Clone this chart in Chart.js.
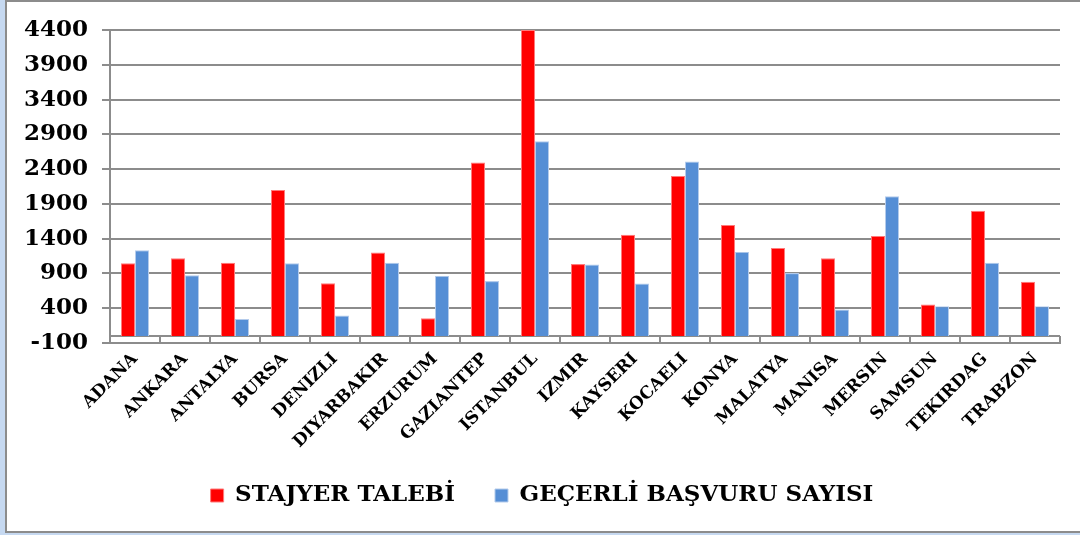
<!DOCTYPE html>
<html>
<head>
<meta charset="utf-8">
<script src="https://cdn.jsdelivr.net/npm/chart.js@4.4.1/dist/chart.umd.min.js"></script>
<style>
  html, body { margin: 0; padding: 0; width: 1080px; height: 535px; overflow: hidden; background: #c6d9f1; }
  #frame { position: absolute; left: 5px; top: 0; width: 1090px; height: 529px; background: #ffffff;
           border-left: 2px solid #8c8c8c; border-top: 2px solid #8c8c8c; border-bottom: 2px solid #8c8c8c; }
  #wrap { position: absolute; left: 0; top: 0; width: 1080px; height: 535px; }
</style>
</head>
<body>
<div id="frame"></div>
<div id="wrap"><canvas id="c"></canvas></div>
<script>
const categories = ['ADANA','ANKARA','ANTALYA','BURSA','DENIZLI','DIYARBAKIR','ERZURUM','GAZIANTEP','ISTANBUL','IZMIR','KAYSERI','KOCAELI','KONYA','MALATYA','MANISA','MERSIN','SAMSUN','TEKIRDAG','TRABZON'];
const stajyerTalebi = [1045, 1120, 1055, 2100, 760, 1200, 255, 2495, 4400, 1035, 1455, 2300, 1595, 1265, 1120, 1440, 455, 1800, 780];
const gecerliBasvuru = [1235, 875, 245, 1045, 295, 1055, 865, 790, 2800, 1030, 755, 2510, 1210, 905, 380, 2010, 430, 1055, 430];
const seriesNames = ['STAJYER TALEBİ', 'GEÇERLİ BAŞVURU SAYISI'];
const yMin = -100, yMax = 4400, yStep = 500;

const gridColor = '#8c8c8c';
const fontFamily = "'DejaVu Serif', serif";

// Floor strip between 0 and the axis minimum, with category dividers (as in the original)
const floorStrip = {
  id: 'floorStrip',
  afterLayout(chart) {
    // let the long rotated category labels extend below the axis box without clipping
    chart.scales.x.bottom = chart.height;
  },
  beforeDatasetsDraw(chart) {
    const {ctx, chartArea, scales: {x, y}} = chart;
    const y0 = y.getPixelForValue(0);
    const yb = y.getPixelForValue(y.min);
    ctx.save();
    ctx.strokeStyle = gridColor;
    ctx.lineWidth = 2;
    ctx.beginPath();
    ctx.moveTo(chartArea.left, y0);
    ctx.lineTo(chartArea.right, y0);
    for (let i = 0; i <= categories.length; i++) {
      const px = Math.round(x.getPixelForValue(i - 0.5));
      ctx.moveTo(px, y0);
      ctx.lineTo(px, yb);
    }
    ctx.stroke();
    ctx.restore();
  }
};

new Chart(document.getElementById('c'), {
  type: 'bar',
  data: {
    labels: categories,
    datasets: [
      { label: seriesNames[0], data: stajyerTalebi, backgroundColor: '#ff0000', borderColor: '#ff7a7a', borderWidth: 1 },
      { label: seriesNames[1], data: gecerliBasvuru, backgroundColor: '#558ed5', borderColor: '#b4cbeb', borderWidth: 1 }
    ]
  },
  options: {
    responsive: true,
    maintainAspectRatio: false,
    animation: false,
    datasets: { bar: { categoryPercentage: 0.56, barPercentage: 1.0 } },
    layout: { padding: { top: 30, right: 20, left: 24, bottom: 18 } },
    plugins: {
      tooltip: { enabled: false },
      legend: {
        position: 'bottom',
        labels: {
          color: '#000000',
          boxWidth: 13,
          boxHeight: 13,
          padding: 40,
          font: { family: fontFamily, size: 23, weight: 'bold' }
        }
      }
    },
    scales: {
      x: {
        grid: { display: false, drawTicks: false },
        border: { display: true, color: gridColor, width: 2 },
        ticks: {
          autoSkip: false,
          minRotation: 45,
          maxRotation: 45,
          padding: 6,
          color: '#000000',
          font: { family: fontFamily, size: 17, weight: 'bold' }
        },
        afterFit(scale) { scale.height = 101; }
      },
      y: {
        min: yMin,
        max: yMax,
        grid: { color: gridColor, lineWidth: 2, tickLength: 8, drawTicks: true },
        border: { display: true, color: gridColor, width: 2 },
        ticks: {
          stepSize: yStep,
          padding: 14,
          color: '#000000',
          font: { family: fontFamily, size: 23, weight: 'bold' },
          callback: (v) => String(v)
        },
        afterFit(scale) { scale.width = 86; }
      }
    }
  },
  plugins: [floorStrip]
});
</script>
</body>
</html>
